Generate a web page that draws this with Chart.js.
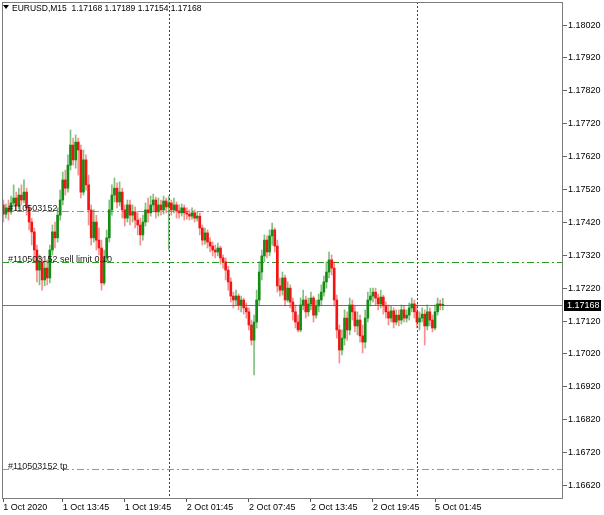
<!DOCTYPE html>
<html>
<head>
<meta charset="utf-8">
<script src="https://cdn.jsdelivr.net/npm/chart.js@4.4.1/dist/chart.umd.min.js"></script>
<style>
  html, body { margin: 0; padding: 0; background: #fff; }
  canvas { display: block; }
</style>
</head>
<body>
<canvas id="chart" width="604" height="515"></canvas>
<script>
// EURUSD M15 candles, 1 Oct 2020 08:00 -> 5 Oct 2020 02:30 (171 bars)
const opens = [
  1.17473,1.17445,1.17464,1.17452,1.17479,1.17494,1.17470,1.17503,1.17488,1.17512,
  1.17464,1.17421,1.17391,1.17336,1.17275,1.17300,1.17245,1.17281,1.17251,1.17336,
  1.17391,1.17373,1.17442,1.17488,1.17549,1.17524,1.17594,1.17655,1.17610,1.17664,
  1.17640,1.17512,1.17610,1.17534,1.17458,1.17373,1.17421,1.17366,1.17342,1.17236,
  1.17312,1.17373,1.17458,1.17503,1.17524,1.17482,1.17512,1.17458,1.17433,1.17473,
  1.17442,1.17452,1.17427,1.17412,1.17382,1.17421,1.17458,1.17449,1.17473,1.17488,
  1.17452,1.17473,1.17458,1.17485,1.17467,1.17479,1.17458,1.17473,1.17455,1.17449,
  1.17464,1.17449,1.17445,1.17439,1.17449,1.17433,1.17439,1.17403,1.17366,1.17388,
  1.17360,1.17348,1.17336,1.17330,1.17342,1.17312,1.17300,1.17275,1.17239,1.17196,
  1.17184,1.17196,1.17169,1.17184,1.17160,1.17148,1.17108,1.17062,1.17117,1.17184,
  1.17269,1.17318,1.17366,1.17330,1.17379,1.17397,1.17348,1.17227,1.17214,1.17251,
  1.17184,1.17220,1.17178,1.17148,1.17117,1.17093,1.17169,1.17184,1.17148,1.17172,
  1.17190,1.17138,1.17166,1.17184,1.17208,1.17239,1.17269,1.17306,1.17281,1.17184,
  1.17093,1.17032,1.17068,1.17129,1.17093,1.17169,1.17148,1.17105,1.17123,1.17075,
  1.17056,1.17129,1.17184,1.17196,1.17208,1.17190,1.17172,1.17193,1.17166,1.17148,
  1.17129,1.17151,1.17117,1.17138,1.17123,1.17154,1.17129,1.17138,1.17160,1.17172,
  1.17148,1.17117,1.17129,1.17141,1.17105,1.17148,1.17123,1.17099,1.17148,1.17172,
  1.17168
];
const highs = [
  1.17488,1.17476,1.17488,1.17500,1.17534,1.17512,1.17524,1.17534,1.17549,1.17524,
  1.17473,1.17433,1.17403,1.17351,1.17321,1.17312,1.17300,1.17306,1.17351,1.17412,
  1.17421,1.17464,1.17518,1.17573,1.17579,1.17625,1.17701,1.17676,1.17686,1.17676,
  1.17655,1.17640,1.17625,1.17564,1.17473,1.17458,1.17442,1.17403,1.17366,1.17336,
  1.17397,1.17488,1.17534,1.17555,1.17540,1.17543,1.17524,1.17473,1.17488,1.17488,
  1.17473,1.17467,1.17449,1.17433,1.17442,1.17479,1.17494,1.17500,1.17506,1.17497,
  1.17494,1.17488,1.17500,1.17494,1.17500,1.17488,1.17494,1.17482,1.17473,1.17476,
  1.17473,1.17464,1.17458,1.17464,1.17458,1.17452,1.17449,1.17412,1.17403,1.17397,
  1.17373,1.17360,1.17351,1.17357,1.17348,1.17321,1.17312,1.17287,1.17251,1.17208,
  1.17214,1.17202,1.17196,1.17190,1.17175,1.17160,1.17123,1.17138,1.17214,1.17300,
  1.17336,1.17382,1.17379,1.17397,1.17418,1.17403,1.17366,1.17251,1.17269,1.17260,
  1.17239,1.17230,1.17190,1.17169,1.17138,1.17190,1.17214,1.17196,1.17190,1.17208,
  1.17196,1.17184,1.17202,1.17230,1.17257,1.17300,1.17330,1.17321,1.17300,1.17199,
  1.17108,1.17093,1.17154,1.17148,1.17190,1.17184,1.17166,1.17148,1.17138,1.17108,
  1.17154,1.17208,1.17220,1.17220,1.17220,1.17202,1.17214,1.17199,1.17178,1.17169,
  1.17166,1.17160,1.17154,1.17154,1.17169,1.17166,1.17154,1.17175,1.17190,1.17184,
  1.17169,1.17148,1.17160,1.17154,1.17169,1.17160,1.17138,1.17169,1.17190,1.17184,
  1.17189
];
const lows = [
  1.17421,1.17433,1.17427,1.17445,1.17470,1.17458,1.17461,1.17473,1.17479,1.17442,
  1.17397,1.17351,1.17300,1.17239,1.17230,1.17214,1.17227,1.17230,1.17236,1.17321,
  1.17342,1.17360,1.17427,1.17473,1.17503,1.17512,1.17579,1.17594,1.17585,1.17564,
  1.17494,1.17503,1.17518,1.17412,1.17351,1.17360,1.17336,1.17321,1.17214,1.17230,
  1.17300,1.17360,1.17442,1.17482,1.17464,1.17470,1.17433,1.17409,1.17421,1.17412,
  1.17421,1.17403,1.17382,1.17351,1.17366,1.17409,1.17421,1.17439,1.17452,1.17433,
  1.17439,1.17442,1.17445,1.17449,1.17336,1.17442,1.17449,1.17433,1.17433,1.17439,
  1.17427,1.17430,1.17427,1.17430,1.17421,1.17424,1.17382,1.17351,1.17354,1.17342,
  1.17330,1.17318,1.17312,1.17318,1.17293,1.17281,1.17245,1.17214,1.17178,1.17160,
  1.17169,1.17154,1.17148,1.17141,1.17129,1.17093,1.17047,1.16956,1.17099,1.17169,
  1.17245,1.17300,1.17312,1.17318,1.17351,1.17330,1.17208,1.17196,1.17199,1.17166,
  1.17178,1.17160,1.17123,1.17099,1.17087,1.17087,1.17154,1.17129,1.17135,1.17154,
  1.17117,1.17129,1.17148,1.17169,1.17196,1.17220,1.17251,1.17260,1.17166,1.17068,
  1.16992,1.17017,1.17047,1.17062,1.17078,1.17123,1.17087,1.17078,1.17056,1.17023,
  1.17038,1.17117,1.17166,1.17178,1.17169,1.17154,1.17160,1.17141,1.17129,1.17108,
  1.17117,1.17099,1.17108,1.17105,1.17111,1.17117,1.17117,1.17123,1.17148,1.17129,
  1.17099,1.17093,1.17117,1.17047,1.17093,1.17105,1.17087,1.17093,1.17138,1.17154,
  1.17154
];
const closes = [
  1.17445,1.17464,1.17452,1.17479,1.17494,1.17470,1.17503,1.17488,1.17512,1.17464,
  1.17421,1.17391,1.17336,1.17275,1.17300,1.17245,1.17281,1.17251,1.17336,1.17391,
  1.17373,1.17442,1.17488,1.17549,1.17524,1.17594,1.17655,1.17610,1.17664,1.17640,
  1.17512,1.17610,1.17534,1.17458,1.17373,1.17421,1.17366,1.17342,1.17236,1.17312,
  1.17373,1.17458,1.17503,1.17524,1.17482,1.17512,1.17458,1.17433,1.17473,1.17442,
  1.17452,1.17427,1.17412,1.17382,1.17421,1.17458,1.17449,1.17473,1.17488,1.17452,
  1.17473,1.17458,1.17485,1.17467,1.17479,1.17458,1.17473,1.17455,1.17449,1.17464,
  1.17449,1.17445,1.17439,1.17449,1.17433,1.17439,1.17403,1.17366,1.17388,1.17360,
  1.17348,1.17336,1.17330,1.17342,1.17312,1.17300,1.17275,1.17239,1.17196,1.17184,
  1.17196,1.17169,1.17184,1.17160,1.17148,1.17108,1.17062,1.17117,1.17184,1.17269,
  1.17318,1.17366,1.17330,1.17379,1.17397,1.17348,1.17227,1.17214,1.17251,1.17184,
  1.17220,1.17178,1.17148,1.17117,1.17093,1.17169,1.17184,1.17148,1.17172,1.17190,
  1.17138,1.17166,1.17184,1.17208,1.17239,1.17269,1.17306,1.17281,1.17184,1.17093,
  1.17032,1.17068,1.17129,1.17093,1.17169,1.17148,1.17105,1.17123,1.17075,1.17056,
  1.17129,1.17184,1.17196,1.17208,1.17190,1.17172,1.17193,1.17166,1.17148,1.17129,
  1.17151,1.17117,1.17138,1.17123,1.17154,1.17129,1.17138,1.17160,1.17172,1.17148,
  1.17117,1.17129,1.17141,1.17105,1.17148,1.17123,1.17099,1.17148,1.17172,1.17168,
  1.17168
];

// axis ticks
const yTicks = [1.16620,1.16720,1.16820,1.16920,1.17020,1.17120,1.17220,1.17320,
                1.17420,1.17520,1.17620,1.17720,1.17820,1.17920,1.18020];
const xTickBars = [0, 23, 47, 71, 95, 119, 143, 167];
const xTickLabels = ['1 Oct 2020','1 Oct 13:45','1 Oct 19:45','2 Oct 01:45',
                     '2 Oct 07:45','2 Oct 13:45','2 Oct 19:45','5 Oct 01:45'];
const separatorBars = [64, 160];   // 2 Oct 00:00, 5 Oct 00:00

// order levels
const orderLevels = [1.17455, 1.17300, 1.16670];
const orderLabels = ['#110503152', '#110503152 sell limit 0.10', '#110503152 tp'];
const bidPrice = 1.17168;
const titleText = 'EURUSD,M15  1.17168 1.17189 1.17154 1.17168';

const Y_MIN = 1.16579, Y_MAX = 1.18090;
const TOTAL_SLOTS = 217;           // bars + empty shift on the right
const FONT = 'Liberation Sans, Arial, sans-serif';

const COL = {
  upBody: '#138c13', upWick: 'rgba(20,140,20,0.55)',
  dnBody: '#f41414', dnWick: 'rgba(244,30,30,0.5)',
  order: ['#f2773f', '#2a9a2a', '#f2773f'],
  bid: '#3a9d3a', frame: '#7c7c7c', sep: '#404040'
};

// category labels: M15 bar times (weekend skipped), then empty slots
const barTimes = [];
(function () {
  let t = Date.UTC(2020, 9, 1, 8, 0);
  while (barTimes.length < closes.length) {
    const d = new Date(t);
    const wd = d.getUTCDay();
    if (wd !== 0 && wd !== 6) {
      barTimes.push(d.getUTCDate() + ' Oct ' + String(d.getUTCHours()).padStart(2, '0') +
                    ':' + String(d.getUTCMinutes()).padStart(2, '0'));
    }
    t += 15 * 60000;
  }
})();
const categories = barTimes.concat(new Array(TOTAL_SLOTS - barTimes.length).fill(''));

const isUp = closes.map((c, i) => c >= opens[i]);

// scales must not push the plot area in for half-height labels
function noScalePadding(s) {
  s.paddingTop = 0; s.paddingBottom = 0; s.paddingLeft = 0; s.paddingRight = 0;
}

const mt4Overlay = {
  id: 'mt4Overlay',
  beforeDatasetsDraw(chart) {
    const { ctx, chartArea: a, scales: { x, y } } = chart;
    ctx.save();
    ctx.lineWidth = 1;

    // period separators
    ctx.strokeStyle = COL.sep;
    ctx.setLineDash([2, 2]);
    separatorBars.forEach(i => {
      const px = Math.round(x.getPixelForValue(i)) + 0.5;
      ctx.beginPath(); ctx.moveTo(px, a.top); ctx.lineTo(px, a.bottom); ctx.stroke();
    });

    // order lines (dash-dot)
    ctx.setLineDash([7, 3, 2, 3]);
    orderLevels.forEach((v, k) => {
      const py = Math.round(y.getPixelForValue(v)) + 0.5;
      ctx.strokeStyle = COL.order[k];
      ctx.beginPath(); ctx.moveTo(a.left, py); ctx.lineTo(a.right, py); ctx.stroke();
    });

    // bid line
    ctx.setLineDash([]);
    ctx.strokeStyle = COL.bid;
    const by = Math.round(y.getPixelForValue(bidPrice)) + 0.5;
    ctx.beginPath(); ctx.moveTo(a.left, by); ctx.lineTo(a.right, by); ctx.stroke();
    ctx.restore();
  },
  afterDraw(chart) {
    const { ctx, chartArea: a, scales: { y } } = chart;
    ctx.save();

    // order labels
    ctx.font = '9px ' + FONT;
    ctx.fillStyle = '#1a1a1a';
    ctx.textBaseline = 'alphabetic';
    ctx.textAlign = 'left';
    orderLabels.forEach((t, k) => {
      ctx.fillText(t, a.left + 6, Math.round(y.getPixelForValue(orderLevels[k])));
    });

    // frame
    ctx.strokeStyle = COL.frame;
    ctx.lineWidth = 1;
    ctx.strokeRect(Math.round(a.left) + 0.5, Math.round(a.top) + 0.5,
                   Math.round(a.right - a.left) - 1, Math.round(a.bottom - a.top) - 1);

    // bid price tag
    const by = Math.round(y.getPixelForValue(bidPrice));
    ctx.fillStyle = '#000';
    ctx.fillRect(a.right + 1, by - 5, 37, 11);
    ctx.fillStyle = '#fff';
    ctx.textBaseline = 'middle';
    ctx.fillText(bidPrice.toFixed(5), a.right + 4, by + 0.5);

    // title
    ctx.fillStyle = '#000';
    ctx.beginPath();
    ctx.moveTo(a.left + 1, 5); ctx.lineTo(a.left + 7, 5); ctx.lineTo(a.left + 4, 9);
    ctx.closePath(); ctx.fill();
    ctx.font = '8.5px ' + FONT;
    ctx.textBaseline = 'alphabetic';
    ctx.fillText(titleText, a.left + 10, 11);
    ctx.restore();
  }
};

new Chart(document.getElementById('chart'), {
  type: 'bar',
  data: {
    labels: categories,
    datasets: [
      {
        label: 'body',
        data: opens.map((o, i) => [o, closes[i]]),
        backgroundColor: isUp.map(u => u ? COL.upBody : COL.dnBody),
        barThickness: 2,
        minBarLength: 1,
        grouped: false,
        borderWidth: 0,
        order: 0
      },
      {
        label: 'wick',
        data: lows.map((l, i) => [l, highs[i]]),
        backgroundColor: isUp.map(u => u ? COL.upWick : COL.dnWick),
        barThickness: 1,
        grouped: false,
        borderWidth: 0,
        order: 1
      }
    ]
  },
  options: {
    responsive: false,
    animation: false,
    events: [],
    layout: { autoPadding: false, padding: { left: 2, top: 2, right: 0, bottom: 0 } },
    plugins: { legend: { display: false }, tooltip: { enabled: false } },
    scales: {
      x: {
        offset: true,
        border: { display: false },
        grid: {
          offset: false,
          drawOnChartArea: false,
          drawTicks: true,
          tickLength: 3,
          color: c => xTickBars.includes(c.index) ? '#555' : 'rgba(0,0,0,0)'
        },
        ticks: {
          autoSkip: false,
          maxRotation: 0,
          minRotation: 0,
          align: 'start',
          padding: 0,
          color: '#000',
          font: { family: FONT, size: 9 },
          callback: (v, i) => {
            const k = xTickBars.indexOf(i);
            return k >= 0 ? xTickLabels[k] : '';
          }
        },
        afterFit: s => { s.height = 16; noScalePadding(s); }
      },
      y: {
        position: 'right',
        min: Y_MIN,
        max: Y_MAX,
        border: { display: false },
        afterBuildTicks: s => { s.ticks = yTicks.map(v => ({ value: v })); },
        grid: { drawOnChartArea: false, tickLength: 4, color: '#666' },
        ticks: {
          autoSkip: false,
          padding: 1,
          color: '#000',
          font: { family: FONT, size: 9 },
          callback: v => Number(v).toFixed(5)
        },
        afterFit: s => { s.width = 41; noScalePadding(s); }
      }
    }
  },
  plugins: [mt4Overlay]
});
</script>
</body>
</html>
